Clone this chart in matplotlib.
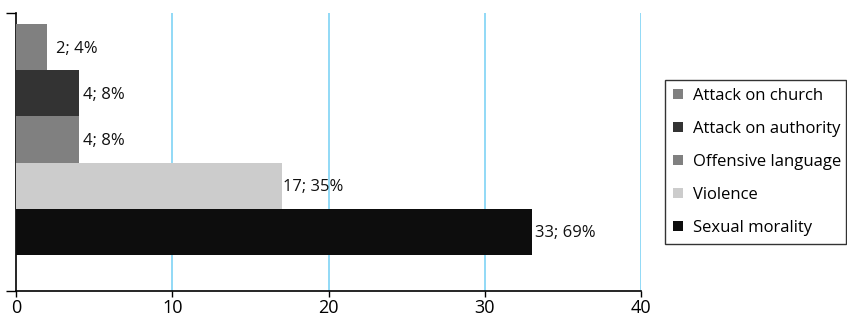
import matplotlib
matplotlib.use("Agg")
import matplotlib.pyplot as plt
from matplotlib.patches import Patch

plt.rcParams['font.family'] = ['Open Sans', 'DejaVu Sans']

categories = ["Attack on church", "Attack on authority", "Offensive language",
              "Violence", "Sexual morality"]
counts = [2, 4, 4, 17, 33]
percents = [4, 8, 8, 35, 69]
colors = ["#808080", "#333333", "#808080", "#cccccc", "#0d0d0d"]
label_pad_px = [9, 4, 4, 1, 3]

W, H = 847, 322
fig = plt.figure(figsize=(W / 100, H / 100), dpi=100)
ax = fig.add_axes([16 / W, (H - 291) / H, (641 - 16) / W, (291 - 13) / H])

n = len(categories)
ypos = [n - 1 - i for i in range(n)]
ax.barh(ypos, counts, height=1.0, color=colors, zorder=3)

ax.set_xlim(0, 40)
ax.set_ylim(-1.28, 4.74)

for x in [10, 20, 30, 40]:
    ax.axvline(x, color="#7fd3f5", lw=1.2, zorder=1)

for y, c, p, pad in zip(ypos, counts, percents, label_pad_px):
    ax.annotate(f"{c}; {p}%", xy=(c, y), xytext=(pad * 0.72, -1),
                textcoords="offset points", va="center", ha="left",
                fontsize=12, color="#111111", zorder=4)

ax.set_xticks([0, 10, 20, 30, 40])
ax.tick_params(axis="x", direction="out", length=4, width=1, labelsize=13,
               pad=2)
ax.set_yticks([-1.28, 4.74])
ax.set_yticklabels([])
ax.tick_params(axis="y", direction="out", length=7, width=1)

for side in ["top", "right"]:
    ax.spines[side].set_visible(False)
for side in ["left", "bottom"]:
    ax.spines[side].set_color("black")
    ax.spines[side].set_linewidth(1.2)

handles = [Patch(facecolor=c, edgecolor="none") for c in colors]
leg = fig.legend(handles, categories, loc="center",
                 bbox_to_anchor=(665 / W, (H - 245) / H, 181 / W, 166 / H),
                 mode="expand", fontsize=12, frameon=True, fancybox=False,
                 edgecolor="black", handlelength=0.55, handleheight=0.55,
                 handletextpad=0.6, labelspacing=1.02, borderpad=0.5,
                 borderaxespad=0)
leg.get_frame().set_linewidth(1.0)

fig.savefig("out.png", dpi=100)
